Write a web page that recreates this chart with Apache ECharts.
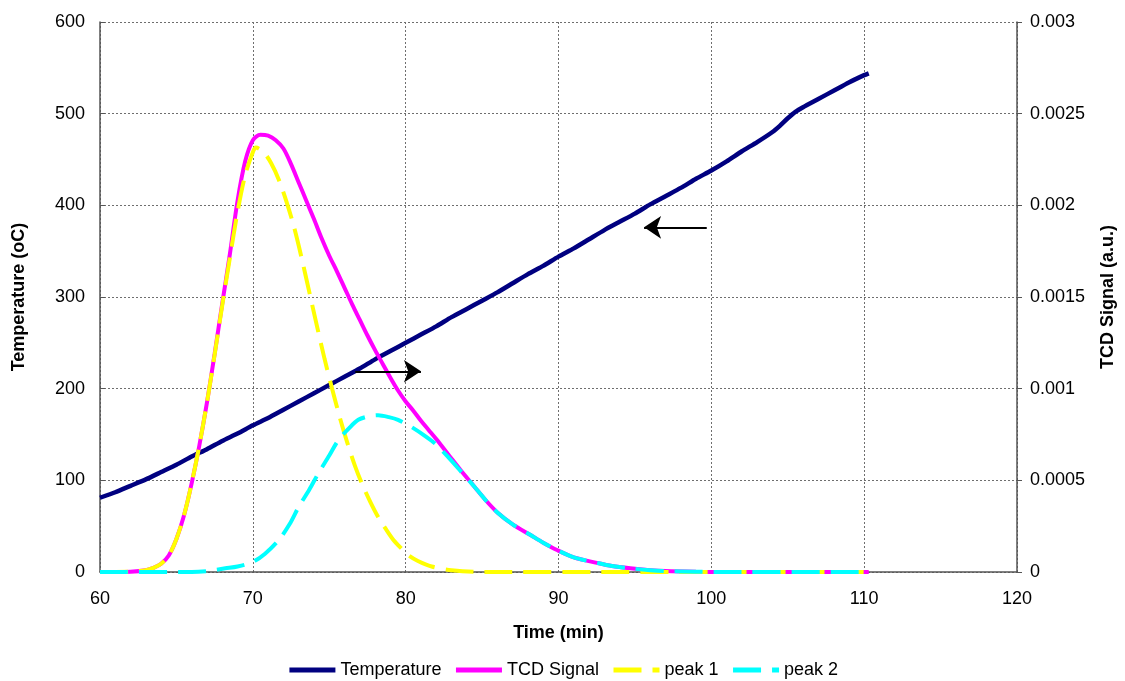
<!DOCTYPE html>
<html>
<head>
<meta charset="utf-8">
<script src="https://cdn.jsdelivr.net/npm/echarts@6/dist/echarts.min.js"></script>
<style>
  html, body { margin: 0; padding: 0; background: #fff; }
  #tpr { width: 1125px; height: 681px; }
</style>
</head>
<body>
<div id="tpr"></div>
<script>
// temperature (oC) vs time (min), left axis
const tempTime = [60, 61, 62, 63, 64, 65, 66, 67, 68, 69, 70, 71, 72, 73, 74, 75, 76, 77, 78, 79, 80,
  81, 82, 83, 84, 85, 86, 87, 88, 89, 90, 91, 92, 93, 94, 95, 96, 97, 98, 99, 100,
  101, 102, 103, 104, 104.5, 105, 105.5, 106, 107, 108, 109, 110, 110.3];
const tempValue = [81, 87, 94, 101, 109, 117, 126, 134, 143, 151, 160, 168, 177, 186, 195, 204, 213, 222, 232, 241, 250,
  259, 268, 278, 287, 296, 305, 315, 325, 334, 344, 353, 363, 373, 382, 391, 401, 410, 419, 429, 438,
  448, 459, 469, 480, 487, 495, 502, 507, 516, 525, 534, 542, 544];

// TCD signal (a.u.), right axis
const tcdTime = [60, 61, 62, 63, 63.5, 64, 64.5, 65, 65.5, 66, 66.5, 67, 67.5, 68, 68.5, 69, 69.5, 70, 70.5,
  71, 71.5, 72, 72.5, 73, 73.5, 74, 74.5, 75, 75.5, 76, 76.5, 77, 77.5, 78, 78.5, 79, 79.5, 80, 80.5,
  81, 81.5, 82, 82.8, 83.6, 84.5, 85.2, 86, 87, 88.2, 89, 89.9, 91, 92.5, 93.5, 94.7, 96, 97, 99, 101, 110.3];
const tcdValue = [0, 0, 0.0000015, 0.00001, 0.0000225, 0.000045, 0.00009, 0.00018, 0.00031, 0.000485, 0.00069,
  0.000925, 0.00119, 0.001465, 0.001735, 0.002025, 0.00224, 0.002355, 0.002385,
  0.00238, 0.002355, 0.00231, 0.002225, 0.002125, 0.002025, 0.001925, 0.00182, 0.001725, 0.00164, 0.00155,
  0.00146, 0.001375, 0.00129, 0.00121, 0.001135, 0.00106, 0.00099, 0.00093, 0.00088,
  0.000825, 0.000775, 0.000725, 0.00064, 0.000555, 0.000465, 0.000395, 0.000325, 0.00026, 0.0002, 0.00016,
  0.00012, 0.00008, 0.00005, 0.0000325, 0.00002, 0.00001, 0.000005, 0.0000015, 0, 0];

const peak1Time = [60, 62, 63, 63.5, 64, 64.5, 65, 65.5, 66, 66.5, 67, 67.5, 68, 68.5, 69, 69.5, 70, 70.2,
  70.7, 71.2, 71.7, 72.2, 72.7, 73.2, 73.7, 74.2, 74.7, 75.2, 75.7, 76.2, 76.7, 77.2, 77.7, 78.2, 78.7,
  79.2, 79.7, 80.2, 80.8, 81.7, 83, 85, 110.3];
const peak1Value = [0, 0.0000015, 0.00001, 0.0000225, 0.000045, 0.00009, 0.00018, 0.00031, 0.000485, 0.00069,
  0.000925, 0.001185, 0.001455, 0.001715, 0.001965, 0.002165, 0.00229, 0.002315,
  0.00229, 0.00223, 0.00214, 0.00202, 0.00188, 0.00171, 0.001525, 0.00134, 0.00116, 0.000995, 0.00084,
  0.0007, 0.000575, 0.00047, 0.00038, 0.0003, 0.000235, 0.000175, 0.00013, 0.00009, 0.00006, 0.00003,
  0.00001, 0, 0];

const peak2Time = [60, 66, 67, 68.2, 69, 70, 70.8, 71.7, 72.4, 73, 73.7, 74.3, 75, 75.6, 76.3, 76.9, 77.6, 78.2,
  78.9, 79.5, 80.4, 81.3, 82, 82.8, 83.6, 84.5, 85.2, 86, 87, 88.2, 89, 89.9, 91, 92.5, 93.5, 94.7, 96, 97,
  99, 101, 110.3];
const peak2Value = [0, 0, 0.000005, 0.00002, 0.00003, 0.000055, 0.0001, 0.000175, 0.00026, 0.000355, 0.00045,
  0.00054, 0.000635, 0.00072, 0.000785, 0.00083, 0.00085, 0.000855, 0.000845, 0.00083, 0.00079, 0.00074,
  0.000695, 0.000625, 0.00055, 0.000465, 0.000395, 0.000325, 0.00026, 0.0002, 0.00016, 0.00012, 0.00008,
  0.00005, 0.0000325, 0.00002, 0.00001, 0.000005, 0.0000015, 0, 0];

// arrow annotations: [x from, x to, y] in data units of the left axis
const arrowToLeft = [99.7, 95.6, 376];
const arrowToRight = [76.7, 81.0, 219];

const pair = (xs, ys) => xs.map((x, i) => [x, ys[i]]);

const chart = echarts.init(document.getElementById('tpr'));
const font = 'Arial, "Liberation Sans", sans-serif';
const gridLine = { show: true, lineStyle: { color: '#6e6e6e', type: [2, 2], width: 1 } };
const axisBlack = { show: true, lineStyle: { color: '#555', width: 1.5 } };

const option = {
  animation: false,
  textStyle: { fontFamily: font },
  grid: { left: 100, right: 103, top: 22, bottom: 109, containLabel: false },
  legend: {
    top: 656,
    left: 'center',
    itemWidth: 46,
    itemHeight: 14,
    itemGap: 12,
    itemStyle: { opacity: 0 },
    lineStyle: { width: 5 },
    textStyle: { fontSize: 18, color: '#000', fontFamily: font },
    data: ['Temperature', 'TCD Signal', 'peak 1', 'peak 2']
  },
  xAxis: {
    type: 'value',
    min: 60, max: 120, interval: 10,
    name: 'Time (min)',
    nameLocation: 'middle',
    nameGap: 52,
    nameTextStyle: { fontSize: 18, fontWeight: 'bold', color: '#000' },
    axisLine: axisBlack,
    axisTick: { show: false },
    axisLabel: { fontSize: 18, color: '#000', margin: 18 },
    splitLine: gridLine
  },
  yAxis: [
    {
      type: 'value',
      min: 0, max: 600, interval: 100,
      name: 'Temperature (oC)',
      nameLocation: 'middle',
      nameRotate: 90,
      nameGap: 72,
      nameTextStyle: { fontSize: 18, fontWeight: 'bold', color: '#000' },
      axisLine: axisBlack,
      axisTick: { show: true, inside: true, length: 5, lineStyle: { color: '#555' } },
      axisLabel: { fontSize: 18, color: '#000', margin: 15 },
      splitLine: gridLine
    },
    {
      type: 'value',
      position: 'right',
      min: 0, max: 0.003, interval: 0.0005,
      name: 'TCD Signal (a.u.)',
      nameLocation: 'middle',
      nameRotate: 90,
      nameGap: 82,
      nameTextStyle: { fontSize: 18, fontWeight: 'bold', color: '#000' },
      axisLine: axisBlack,
      axisTick: { show: true, length: 5, lineStyle: { color: '#555' } },
      axisLabel: { fontSize: 18, color: '#000', margin: 13, formatter: v => String(+v.toFixed(4)) },
      splitLine: { show: false }
    }
  ],
  series: [
    {
      name: 'Temperature',
      type: 'line',
      yAxisIndex: 0,
      symbol: 'none',
      smooth: 0.2,
      lineStyle: { color: '#000080', width: 4.5 },
      itemStyle: { color: '#000080' },
      data: pair(tempTime, tempValue),
      markLine: {
        silent: true,
        symbol: ['none', 'arrow'],
        symbolSize: [17, 17],
        label: { show: false },
        lineStyle: { color: '#000', width: 2, type: 'solid' },
        data: [
          [{ coord: [arrowToLeft[0], arrowToLeft[2]] }, { coord: [arrowToLeft[1], arrowToLeft[2]] }],
          [{ coord: [arrowToRight[0], arrowToRight[2]] }, { coord: [arrowToRight[1], arrowToRight[2]] }]
        ]
      }
    },
    {
      name: 'TCD Signal',
      type: 'line',
      yAxisIndex: 1,
      symbol: 'none',
      smooth: 0.3,
      lineStyle: { color: '#ff00ff', width: 4 },
      itemStyle: { color: '#ff00ff' },
      data: pair(tcdTime, tcdValue)
    },
    {
      name: 'peak 1',
      type: 'line',
      yAxisIndex: 1,
      symbol: 'none',
      smooth: 0.3,
      lineStyle: { color: '#ffff00', width: 4, type: [28, 11] },
      itemStyle: { color: '#ffff00' },
      data: pair(peak1Time, peak1Value)
    },
    {
      name: 'peak 2',
      type: 'line',
      yAxisIndex: 1,
      symbol: 'none',
      smooth: 0.3,
      lineStyle: { color: '#00ffff', width: 4, type: [28, 11] },
      itemStyle: { color: '#00ffff' },
      data: pair(peak2Time, peak2Value)
    }
  ]
};
chart.setOption(option);
window.addEventListener('resize', () => {
  chart.resize();
});
</script>
</body>
</html>
